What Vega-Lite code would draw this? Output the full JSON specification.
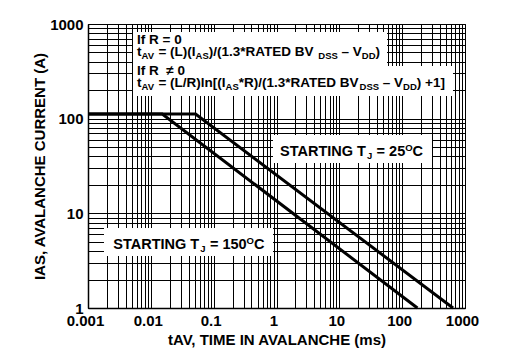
{
  "$schema": "https://vega.github.io/schema/vega-lite/v6.json",
  "width": 377,
  "height": 284,
  "autosize": {"type": "none"},
  "padding": {"left": 88, "top": 24, "right": 54, "bottom": 50},
  "background": "white",
  "view": {"stroke": "black", "strokeWidth": 1},
  "datasets": {
    "curves": [
      {"s": "150", "t": 0.001, "i": 112}, {"s": "150", "t": 0.0152, "i": 112}, {"s": "150", "t": 175, "i": 1},
      {"s": "25", "t": 0.001, "i": 112}, {"s": "25", "t": 0.0515, "i": 112}, {"s": "25", "t": 645, "i": 1}
    ],
    "boxes": [
      {"t": 0.0052, "t2": 57.4, "i": 823, "i2": 360},
      {"t": 0.0052, "t2": 644, "i": 360, "i2": 173.5},
      {"t": 0.88, "t2": 298.4, "i": 67.2, "i2": 34.0},
      {"t": 0.001797, "t2": 0.88, "i": 7.0, "i2": 3.54}
    ],
    "formula": [
      {"t": 0.006022, "i": 614.9, "text": "If R = 0"},
      {"t": 0.006022, "i": 459.2, "text": "t"},
      {"t": 0.013223, "i": 459.2, "text": "= (L)(I"},
      {"t": 0.083614, "i": 459.2, "text": ")/(1.3*RATED BV"},
      {"t": 10.866, "i": 459.2, "text": "\u2013 V"},
      {"t": 37.775, "i": 459.2, "text": ")"},
      {"t": 0.006022, "i": 289.2, "text": "If R\u00a0\u00a0\u2260\u00a00"},
      {"t": 0.006022, "i": 216.0, "text": "t"},
      {"t": 0.013223, "i": 216.0, "text": "= (L/R)ln[(I"},
      {"t": 0.25092, "i": 216.0, "text": "*R)/(1.3*RATED BV"},
      {"t": 49.183, "i": 216.0, "text": "\u2013 V"},
      {"t": 170.87, "i": 216.0, "text": ") +1]"}
    ],
    "formulaSub": [
      {"t": 0.007103, "i": 421.7, "text": "AV"},
      {"t": 0.051534, "i": 421.7, "text": "AS"},
      {"t": 4.627, "i": 421.7, "text": "DSS"},
      {"t": 22.786, "i": 421.7, "text": "DD"},
      {"t": 0.007103, "i": 198.4, "text": "AV"},
      {"t": 0.15469, "i": 198.4, "text": "AS"},
      {"t": 20.963, "i": 198.4, "text": "DSS"},
      {"t": 103.36, "i": 198.4, "text": "DD"}
    ],
    "starting": [
      {"t": 0.002527, "i": 4.2, "text": "STARTING T"},
      {"t": 0.08708, "i": 4.2, "text": "= 150"},
      {"t": 0.4379, "i": 4.2, "text": "C"},
      {"t": 1.137, "i": 40.63, "text": "STARTING T"},
      {"t": 39.17, "i": 40.63, "text": "= 25"},
      {"t": 146.6, "i": 40.63, "text": "C"}
    ],
    "startingSmall": [
      {"t": 0.06127, "i": 3.904, "text": "J"},
      {"t": 0.3341, "i": 4.745, "text": "O"},
      {"t": 27.56, "i": 37.77, "text": "J"},
      {"t": 111.8, "i": 45.87, "text": "O"}
    ]
  },
  "encoding": {
    "x": {
      "field": "t", "type": "quantitative",
      "scale": {"type": "log", "domain": [0.001, 1000], "nice": false},
      "axis": {
        "values": [0.001,0.002,0.003,0.004,0.005,0.006,0.007,0.008,0.009,0.01,0.02,0.03,0.04,0.05,0.06,0.07,0.08,0.09,0.1,0.2,0.3,0.4,0.5,0.6,0.7,0.8,0.9,1,2,3,4,5,6,7,8,9,10,20,30,40,50,60,70,80,90,100,200,300,400,500,600,700,800,900,1000],
        "labelExpr": "abs(log(datum.value)/LN10 - round(log(datum.value)/LN10)) < 1e-9 ? format(datum.value, '~g') : ''",
        "grid": true, "gridColor": "black", "gridOpacity": 1, "gridWidth": 1,
        "ticks": false,
        "domain": true, "domainColor": "black", "domainWidth": 1.5,
        "labelFont": "Liberation Sans", "labelFontSize": 15, "labelFontWeight": "bold", "labelColor": "black",
        "labelPadding": 5, "labelFlush": false, "labelOverlap": false, "labelOffset": -3,
        "title": "tAV, TIME IN AVALANCHE (ms)",
        "titleFont": "Liberation Sans", "titleFontSize": 15, "titleFontWeight": "bold", "titleColor": "black",
        "titlePadding": 4
      }
    },
    "y": {
      "field": "i", "type": "quantitative",
      "scale": {"type": "log", "domain": [1, 1000], "nice": false},
      "axis": {
        "values": [1,2,3,4,5,6,7,8,9,10,20,30,40,50,60,70,80,90,100,200,300,400,500,600,700,800,900,1000],
        "labelExpr": "abs(log(datum.value)/LN10 - round(log(datum.value)/LN10)) < 1e-9 ? format(datum.value, '~g') : ''",
        "grid": true, "gridColor": "black", "gridOpacity": 1, "gridWidth": 1,
        "ticks": false,
        "domain": true, "domainColor": "black", "domainWidth": 1.5,
        "labelFont": "Liberation Sans", "labelFontSize": 15, "labelFontWeight": "bold", "labelColor": "black",
        "labelPadding": 5, "labelOverlap": false, "labelFlush": false,
        "title": "IAS, AVALANCHE CURRENT (A)",
        "titleFont": "Liberation Sans", "titleFontSize": 15, "titleFontWeight": "bold", "titleColor": "black",
        "titlePadding": 2
      }
    }
  },
  "layer": [
    {
      "data": {"name": "boxes"},
      "mark": {"type": "rect", "fill": "white", "stroke": null},
      "encoding": {"x2": {"field": "t2"}, "y2": {"field": "i2"}}
    },
    {
      "data": {"name": "curves"},
      "mark": {"type": "line", "color": "black", "strokeWidth": 3, "strokeCap": "butt"},
      "encoding": {"detail": {"field": "s", "type": "nominal"}}
    },
    {
      "data": {"name": "formula"},
      "mark": {"type": "text", "font": "Liberation Sans", "fontSize": 13.5, "fontWeight": "bold", "align": "left", "baseline": "alphabetic", "color": "black"},
      "encoding": {"text": {"field": "text"}}
    },
    {
      "data": {"name": "formulaSub"},
      "mark": {"type": "text", "font": "Liberation Sans", "fontSize": 9.5, "fontWeight": "bold", "align": "left", "baseline": "alphabetic", "color": "black"},
      "encoding": {"text": {"field": "text"}}
    },
    {
      "data": {"name": "starting"},
      "mark": {"type": "text", "font": "Liberation Sans", "fontSize": 14.5, "fontWeight": "bold", "align": "left", "baseline": "alphabetic", "color": "black"},
      "encoding": {"text": {"field": "text"}}
    },
    {
      "data": {"name": "startingSmall"},
      "mark": {"type": "text", "font": "Liberation Sans", "fontSize": 9.5, "fontWeight": "bold", "align": "left", "baseline": "alphabetic", "color": "black"},
      "encoding": {"text": {"field": "text"}}
    }
  ]
}
